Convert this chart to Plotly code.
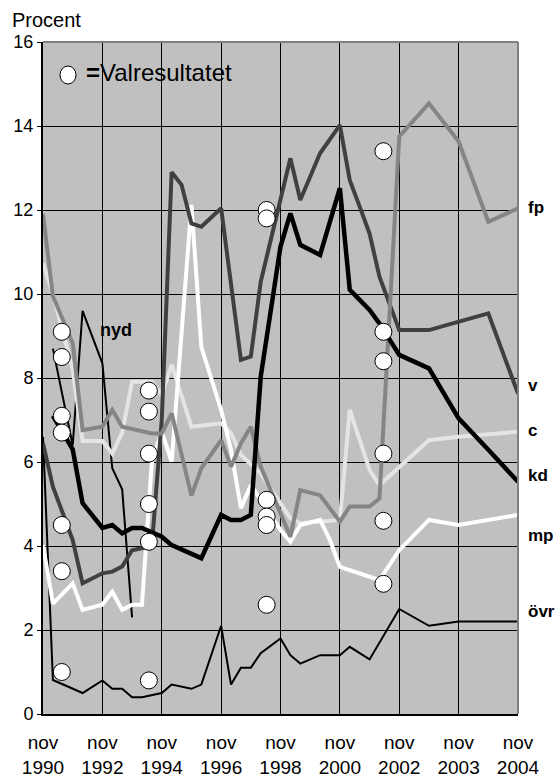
import plotly.graph_objects as go

# Survey periods (index along the category axis); tick labels at every 6th period
tick_idx = [0, 6, 12, 18, 24, 30, 36, 42, 48]
tick_lbl = ["nov<br>1990", "nov<br>1992", "nov<br>1994", "nov<br>1996", "nov<br>1998",
            "nov<br>2000", "nov<br>2002", "nov<br>2003", "nov<br>2004"]

fp_x = [0, 1, 3, 4, 6, 7, 8, 11, 12, 13, 15, 16, 18, 19, 20, 21, 22, 25, 26, 28, 30, 31, 33, 34, 36, 39, 42, 45, 48]
fp_y = [11.9, 9.95, 8.83, 6.76, 6.84, 7.24, 6.84, 6.68, 6.68, 7.16, 5.2, 5.85, 6.52, 5.89, 6.44, 6.84, 5.89, 4.22, 5.33, 5.21, 4.58, 4.94, 4.94, 5.13, 13.75, 14.54, 13.63, 11.72, 12.04]

v_x = [0, 1, 2, 3, 4, 6, 7, 8, 9, 10, 11, 12, 13, 14, 15, 16, 18, 20, 21, 22, 25, 26, 28, 30, 31, 32, 33, 34, 36, 39, 45, 48]
v_y = [6.44, 5.41, 4.78, 4.14, 3.11, 3.35, 3.39, 3.51, 3.9, 3.94, 4.0, 7.0, 12.9, 12.6, 11.68, 11.6, 12.04, 8.43, 8.51, 10.29, 13.23, 12.24, 13.35, 14.02, 12.71, 12.08, 11.44, 10.41, 9.14, 9.14, 9.54, 7.63]

c_x = [0, 1, 3, 4, 6, 7, 8, 9, 11, 12, 13, 14, 15, 18, 19, 20, 22, 25, 26, 30, 31, 33, 34, 39, 42, 48]
c_y = [10.73, 10.0, 8.2, 6.5, 6.5, 6.2, 6.7, 7.91, 7.91, 7.6, 8.31, 7.6, 6.84, 6.92, 6.68, 6.17, 5.73, 4.66, 4.54, 4.62, 7.24, 5.81, 5.45, 6.52, 6.6, 6.72]

kd_x = [1, 3, 4, 6, 7, 8, 9, 10, 12, 13, 16, 18, 19, 20, 21, 22, 24, 25, 26, 28, 30, 31, 32, 33, 34, 36, 39, 42, 45, 48]
kd_y = [7.1, 6.3, 5.02, 4.43, 4.5, 4.3, 4.43, 4.43, 4.22, 4.02, 3.71, 4.74, 4.62, 4.62, 4.74, 8.03, 11.13, 11.92, 11.17, 10.93, 12.52, 10.1, 9.86, 9.62, 9.3, 8.55, 8.23, 7.04, 6.29, 5.53]

mp_x = [0, 1, 3, 4, 6, 7, 8, 9, 10, 11, 12, 13, 15, 16, 18, 19, 20, 21, 22, 24, 25, 26, 28, 29, 30, 32, 34, 36, 39, 42, 48]
mp_y = [4.02, 2.63, 3.11, 2.48, 2.6, 2.91, 2.48, 2.6, 2.6, 6.0, 6.72, 6.01, 12.12, 8.74, 7.24, 6.29, 4.9, 5.45, 5.1, 4.38, 4.1, 4.5, 4.62, 4.14, 3.5, 3.35, 3.19, 3.9, 4.62, 4.5, 4.74]

ovr_x = [0, 1, 4, 6, 7, 8, 9, 10, 12, 13, 15, 16, 18, 19, 20, 21, 22, 24, 25, 26, 28, 30, 31, 33, 36, 39, 42, 48]
ovr_y = [6.6, 0.81, 0.5, 0.8, 0.6, 0.6, 0.4, 0.4, 0.5, 0.7, 0.6, 0.7, 2.1, 0.7, 1.1, 1.1, 1.45, 1.8, 1.4, 1.2, 1.4, 1.4, 1.6, 1.3, 2.5, 2.1, 2.2, 2.2]

nyd_x = [1, 3, 4, 6, 7, 8, 9]
nyd_y = [8.7, 6.4, 9.6, 8.35, 5.85, 5.35, 2.3]

# Election results (Valresultatet): position of each election on the period axis
val_x = [1.9] * 7 + [10.7] * 6 + [22.6] * 6 + [34.4] * 6
val_y = [9.1, 8.5, 7.1, 6.7, 4.5, 3.4, 1.0,
         7.7, 7.2, 6.2, 5.0, 4.1, 0.8,
         12.0, 11.8, 5.1, 4.7, 4.5, 2.6,
         13.4, 9.1, 8.4, 6.2, 4.6, 3.1]

end_labels = ["fp", "v", "c", "kd", "mp", "övr"]
end_label_y = [12.05, 7.83, 6.76, 5.69, 4.24, 2.43]

fig = go.Figure()

def line(x, y, color, width):
    fig.add_trace(go.Scatter(x=x, y=y, mode="lines", line=dict(color=color, width=width),
                             showlegend=False, hoverinfo="skip"))

line(ovr_x, ovr_y, "#000000", 2)
line(nyd_x, nyd_y, "#000000", 2)
line(c_x, c_y, "#e4e4e4", 4)
line(mp_x, mp_y, "#ffffff", 4)
line(v_x, v_y, "#404040", 4)
line(fp_x, fp_y, "#858585", 4)
line(kd_x, kd_y, "#000000", 4.5)

fig.add_trace(go.Scatter(x=val_x, y=val_y, mode="markers",
                         marker=dict(symbol="circle", size=17, color="#ffffff",
                                     line=dict(color="#000000", width=1)),
                         showlegend=False, hoverinfo="skip"))

PW, PH = 475, 672
shapes = [
    # legend box covering grid lines
    dict(type="rect", xref="paper", yref="paper", layer="between",
         x0=2 / PW, x1=244 / PW, y0=(714 - 97) / PH, y1=(714 - 50) / PH,
         fillcolor="#c0c0c0", line=dict(width=0)),
    dict(type="circle", xref="paper", yref="paper", layer="above",
         x0=(60 - 43) / PW, x1=(76 - 43) / PW, y0=(714 - 84) / PH, y1=(714 - 66) / PH,
         fillcolor="#ffffff", line=dict(color="#000000", width=1)),
    # top / right frame in gray
    dict(type="line", xref="paper", yref="paper", layer="above",
         x0=0, x1=1, y0=1, y1=1, line=dict(color="#808080", width=2)),
    dict(type="line", xref="paper", yref="paper", layer="above",
         x0=1, x1=1, y0=0, y1=1, line=dict(color="#808080", width=2)),
]

ann = [
    dict(text="Procent", xref="paper", yref="paper", x=(10 - 43) / PW, y=1 + (42 - 20) / PH,
         xanchor="left", yanchor="middle", showarrow=False,
         font=dict(size=20, color="#000000", family="Liberation Sans, Arial")),
    dict(text="<b>=</b>Valresultatet", xref="paper", yref="paper", x=(84 - 43) / PW,
         y=(714 - 73) / PH, xanchor="left", yanchor="middle", showarrow=False,
         font=dict(size=24, color="#000000", family="Liberation Sans, Arial")),
    dict(text="<b>nyd</b>", x=5.6, y=9.14, xref="x", yref="y", xanchor="left", yanchor="middle",
         showarrow=False, font=dict(size=18, color="#000000", family="Liberation Sans, Arial")),
]
for lbl, yy in zip(end_labels, end_label_y):
    ann.append(dict(text="<b>" + lbl + "</b>", xref="paper", yref="y", x=1, y=yy, xshift=8,
                    xanchor="left", yanchor="middle", showarrow=False,
                    font=dict(size=17, color="#000000", family="Liberation Sans, Arial")))

fig.update_layout(
    width=560, height=778,
    margin=dict(l=43, r=42, t=42, b=64),
    paper_bgcolor="#ffffff", plot_bgcolor="#c0c0c0",
    font=dict(family="Liberation Sans, Arial", color="#000000"),
    shapes=shapes, annotations=ann, showlegend=False,
    xaxis=dict(range=[0, 48], tickvals=tick_idx, ticktext=tick_lbl,
               showgrid=True, gridcolor="#000000", gridwidth=1,
               showline=True, linecolor="#000000", linewidth=2,
               ticks="", tickfont=dict(size=19), ticklabelstandoff=10, automargin=False,
               zeroline=False, fixedrange=True),
    yaxis=dict(range=[0, 16], tickvals=list(range(0, 17, 2)),
               showgrid=True, gridcolor="#000000", gridwidth=1,
               showline=True, linecolor="#000000", linewidth=2,
               ticks="outside", ticklen=4, tickcolor="#000000", automargin=False,
               tickfont=dict(size=18), zeroline=False, fixedrange=True),
)

fig.write_html("out.html", config={"displayModeBar": False},
               post_script="document.body.style.margin='0px';document.body.style.overflow='hidden';")
